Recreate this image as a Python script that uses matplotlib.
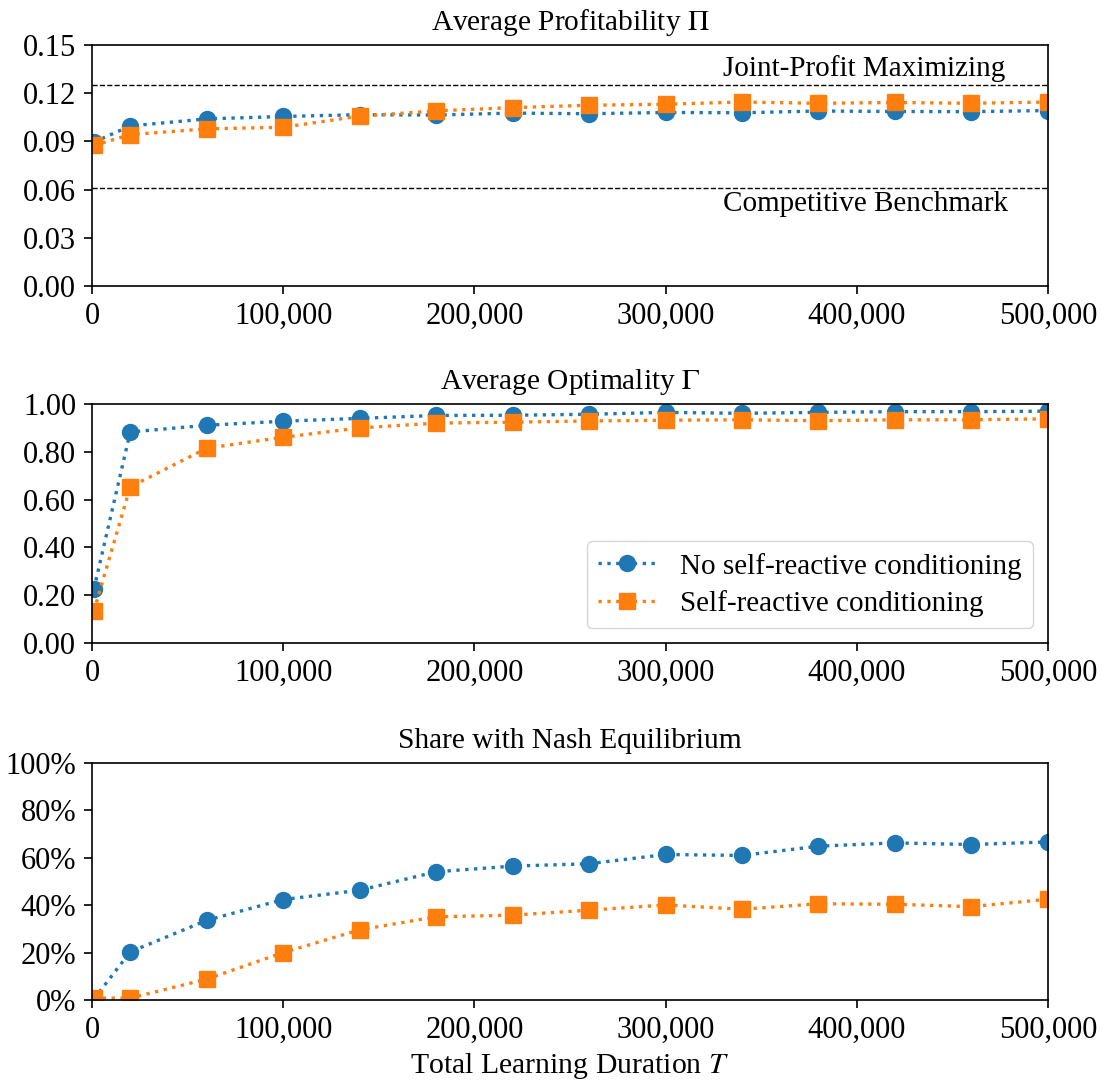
import numpy as np
import matplotlib
matplotlib.use("Agg")
import matplotlib.pyplot as plt
from matplotlib.ticker import FuncFormatter, MultipleLocator

plt.rcParams['font.family'] = ['Liberation Serif', 'DejaVu Serif']
plt.rcParams['mathtext.fontset'] = 'stix'
plt.rcParams['font.size'] = 22

# learning durations
T = [1000, 20000, 60000, 100000, 140000, 180000, 220000, 260000,
     300000, 340000, 380000, 420000, 460000, 500000]

# average profitability
profit_no = [0.0895, 0.0996, 0.1040, 0.1055, 0.1066, 0.1064, 0.1076, 0.1072,
             0.1080, 0.1078, 0.1089, 0.1086, 0.1085, 0.1092]
profit_self = [0.0875, 0.0942, 0.0978, 0.0988, 0.1057, 0.1090, 0.1110, 0.1125,
               0.1131, 0.1145, 0.1137, 0.1142, 0.1137, 0.1145]
joint_profit = 0.125
competitive = 0.0611

# average optimality
optim_no = [0.226, 0.883, 0.911, 0.928, 0.940, 0.952, 0.953, 0.957,
            0.965, 0.961, 0.965, 0.968, 0.968, 0.970]
optim_self = [0.134, 0.653, 0.815, 0.861, 0.900, 0.920, 0.924, 0.929,
              0.932, 0.934, 0.930, 0.934, 0.934, 0.938]

# share with nash equilibrium
nash_no = [0.004, 0.203, 0.336, 0.424, 0.463, 0.541, 0.565, 0.575,
           0.614, 0.610, 0.649, 0.663, 0.656, 0.667]
nash_self = [0.008, 0.008, 0.088, 0.200, 0.296, 0.351, 0.358, 0.379,
             0.401, 0.383, 0.406, 0.404, 0.394, 0.425]

labels = ['No self-reactive conditioning', 'Self-reactive conditioning']
blue = '#1f77b4'
orange = '#ff7f0e'

fig = plt.figure(figsize=(11.03, 10.84), dpi=100)
left, width = 0.0834, 0.8666
ax1 = fig.add_axes([left, 0.7362, width, 0.2223])
ax2 = fig.add_axes([left, 0.4068, width, 0.2205])
ax3 = fig.add_axes([left, 0.0775, width, 0.2186])

def draw(ax, a, b):
    ax.plot(T, a, ':', color=blue, marker='o', ms=11.5, lw=2.4, label=labels[0])
    ax.plot(T, b, ':', color=orange, marker='s', ms=11.5, lw=2.4, label=labels[1])
    ax.set_xlim(0, 500000)
    ax.xaxis.set_major_locator(MultipleLocator(100000))
    ax.xaxis.set_major_formatter(FuncFormatter(lambda v, p: '{:,.0f}'.format(v)))
    ax.tick_params(length=5.5, width=1.2, pad=6)
    for s in ax.spines.values():
        s.set_linewidth(1.2)

# top panel
draw(ax1, profit_no, profit_self)
ax1.axhline(joint_profit, color='black', ls='--', lw=1)
ax1.axhline(competitive, color='black', ls='--', lw=1)
ax1.text(330000, joint_profit + 0.002, 'Joint-Profit Maximizing', va='bottom', ha='left', fontsize=21)
ax1.text(330000, competitive - 0.002, 'Competitive Benchmark', va='top', ha='left', fontsize=21)
ax1.set_ylim(0, 0.15)
ax1.yaxis.set_major_locator(MultipleLocator(0.03))
ax1.yaxis.set_major_formatter(FuncFormatter(lambda v, p: '%.2f' % v))
ax1.set_title(r'Average Profitability $\Pi$', fontsize=21.2, pad=11)

# middle panel
draw(ax2, optim_no, optim_self)
ax2.set_ylim(0, 1)
ax2.yaxis.set_major_locator(MultipleLocator(0.2))
ax2.yaxis.set_major_formatter(FuncFormatter(lambda v, p: '%.2f' % v))
ax2.set_title(r'Average Optimality $\Gamma$', fontsize=21.2, pad=11)
ax2.legend(loc='lower right', fontsize=21, borderpad=0.4, labelspacing=0.35,
           handlelength=2.0)

# bottom panel
draw(ax3, nash_no, nash_self)
ax3.set_ylim(0, 1)
ax3.yaxis.set_major_locator(MultipleLocator(0.2))
ax3.yaxis.set_major_formatter(FuncFormatter(lambda v, p: '%d%%' % round(v * 100)))
ax3.set_title('Share with Nash Equilibrium', fontsize=21.2, pad=11)
ax3.set_xlabel(r'Total Learning Duration $T$', fontsize=21.4)

fig.savefig('out.png', dpi=100)
